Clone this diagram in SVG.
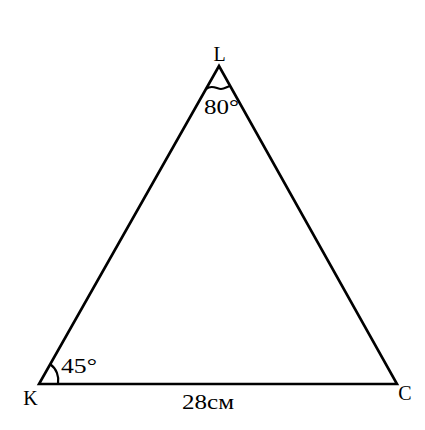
<svg xmlns="http://www.w3.org/2000/svg" width="425" height="430" viewBox="0 0 425 430">
<style>
.ln{fill:none;stroke:#000;stroke-width:2.6;stroke-linejoin:miter}
.arc{fill:none;stroke:#000;stroke-width:2.2}
text{font-family:"Liberation Serif","Times New Roman",serif;fill:#000}
</style>
<rect width="425" height="430" fill="#fff"/>
<g id="triangle">
<path class="ln" d="M219,66 L39,384 L397,384 Z"/>
</g>
<g id="connectors">
<path class="arc" d="M206,89 C212,84 217,89 221,89 C225,89 228,86 231,86"/>
<path class="arc" d="M50,364 A20,20 0 0 1 58,384"/>
</g>
<g id="L"><text x="219.5" y="61" font-size="20" text-anchor="middle">L</text></g>
<g id="K"><text x="30.5" y="405" font-size="20" text-anchor="middle">K</text></g>
<g id="C"><text x="405" y="400" font-size="20" text-anchor="middle">C</text></g>
<g id="angleL"><text x="204" y="114" font-size="21" textLength="35" lengthAdjust="spacingAndGlyphs">80°</text></g>
<g id="angleK"><text x="61" y="373" font-size="22" textLength="36" lengthAdjust="spacingAndGlyphs">45°</text></g>
<g id="base"><text x="182" y="409" font-size="21" textLength="52" lengthAdjust="spacingAndGlyphs">28см</text></g>
</svg>
